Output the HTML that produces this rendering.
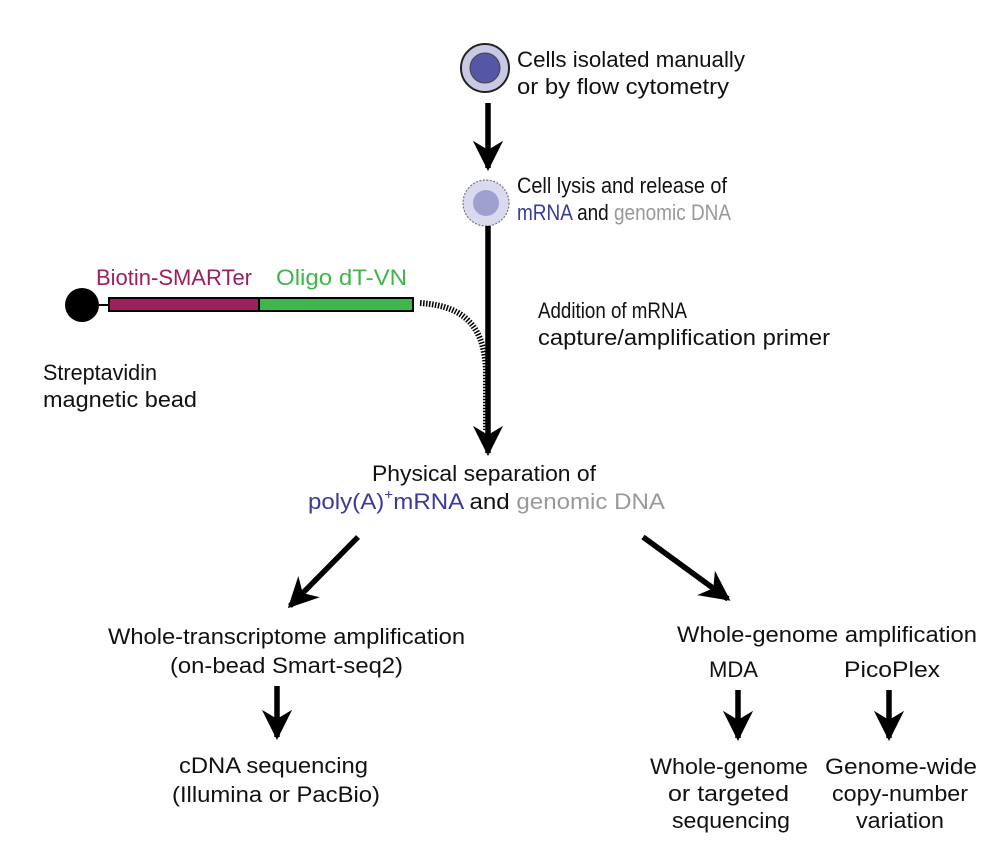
<!DOCTYPE html>
<html><head><meta charset="utf-8"><style>html,body{margin:0;padding:0;background:#fff}svg{display:block}</style></head>
<body>
<svg width="997" height="868" viewBox="0 0 997 868" xmlns="http://www.w3.org/2000/svg" font-family="Liberation Sans, Arial, sans-serif" font-size="22" fill="#111">
<defs>
<marker id="ah" viewBox="0 0 10 10" refX="9" refY="5" markerWidth="5.5" markerHeight="5.5" orient="auto" markerUnits="strokeWidth"><path d="M0,0 L10,5 L0,10 L3,5 z" fill="#000"/></marker>
</defs>
<!-- cell 1 -->
<circle cx="485" cy="68" r="24" fill="#c9c9e6" stroke="#222" stroke-width="2"/>
<circle cx="485" cy="68" r="15" fill="#5656a6" stroke="#444" stroke-width="1"/>
<!-- arrow 1 -->
<line x1="488" y1="103" x2="488" y2="168" stroke="#000" stroke-width="5.5" marker-end="url(#ah)"/>
<!-- cell 2 -->
<circle cx="486" cy="203" r="23" fill="#dadaef" stroke="#777" stroke-width="1.2" stroke-dasharray="2 1.5"/>
<circle cx="486" cy="203" r="13" fill="#a0a0d0"/>
<!-- long arrow -->
<line x1="488" y1="226" x2="488" y2="453" stroke="#000" stroke-width="5.5" marker-end="url(#ah)"/>
<!-- bead & primer -->
<circle cx="82" cy="305" r="17" fill="#000"/>
<line x1="96" y1="305" x2="110" y2="305" stroke="#000" stroke-width="2"/>
<rect x="109" y="298" width="150" height="13" fill="#9e1f5e" stroke="#000" stroke-width="2"/>
<rect x="259" y="298" width="154" height="13" fill="#3fb54a" stroke="#000" stroke-width="2"/>
<path d="M420,303 C468,306 484,330 486,370 L486,430" fill="none" stroke="#000" stroke-width="6" stroke-dasharray="1.5 1.5"/>
<!-- split arrows -->
<line x1="358" y1="537" x2="290" y2="606" stroke="#000" stroke-width="5.5" marker-end="url(#ah)"/>
<line x1="643" y1="537" x2="728" y2="599" stroke="#000" stroke-width="5.5" marker-end="url(#ah)"/>
<line x1="277" y1="686" x2="277" y2="737" stroke="#000" stroke-width="5.5" marker-end="url(#ah)"/>
<line x1="738" y1="690" x2="738" y2="738" stroke="#000" stroke-width="5.5" marker-end="url(#ah)"/>
<line x1="889" y1="690" x2="889" y2="738" stroke="#000" stroke-width="5.5" marker-end="url(#ah)"/>
<!-- text -->
<text x="517" y="67" textLength="228" lengthAdjust="spacingAndGlyphs">Cells isolated manually</text>
<text x="517" y="94" textLength="212" lengthAdjust="spacingAndGlyphs">or by flow cytometry</text>
<text x="517" y="193" textLength="210" lengthAdjust="spacingAndGlyphs">Cell lysis and release of</text>
<text x="517" y="220" textLength="214" lengthAdjust="spacingAndGlyphs"><tspan fill="#3a3a9a">mRNA</tspan> and <tspan fill="#999">genomic DNA</tspan></text>
<text x="96" y="285" textLength="156" lengthAdjust="spacingAndGlyphs" fill="#9e1f5e">Biotin-SMARTer</text>
<text x="276" y="285" textLength="131" lengthAdjust="spacingAndGlyphs" fill="#3fb54a">Oligo dT-VN</text>
<text x="538" y="318" textLength="149" lengthAdjust="spacingAndGlyphs">Addition of mRNA</text>
<text x="538" y="345" textLength="292" lengthAdjust="spacingAndGlyphs">capture/amplification primer</text>
<text x="43" y="380" textLength="114" lengthAdjust="spacingAndGlyphs">Streptavidin</text>
<text x="43" y="407" textLength="154" lengthAdjust="spacingAndGlyphs">magnetic bead</text>
<text x="372" y="481" textLength="224" lengthAdjust="spacingAndGlyphs">Physical separation of</text>
<text x="308" y="509" textLength="357" lengthAdjust="spacingAndGlyphs"><tspan fill="#3a3a9a">poly(A)</tspan><tspan fill="#3a3a9a" font-size="14" dy="-10">+</tspan><tspan fill="#3a3a9a" dy="10">mRNA</tspan> and <tspan fill="#999">genomic DNA</tspan></text>
<text x="108" y="644" textLength="357" lengthAdjust="spacingAndGlyphs">Whole-transcriptome amplification</text>
<text x="170" y="673" textLength="233" lengthAdjust="spacingAndGlyphs">(on-bead Smart-seq2)</text>
<text x="179" y="773" textLength="189" lengthAdjust="spacingAndGlyphs">cDNA sequencing</text>
<text x="172" y="802" textLength="208" lengthAdjust="spacingAndGlyphs">(Illumina or PacBio)</text>
<text x="677" y="642" textLength="300" lengthAdjust="spacingAndGlyphs">Whole-genome amplification</text>
<text x="709" y="677" textLength="49" lengthAdjust="spacingAndGlyphs">MDA</text>
<text x="844" y="677" textLength="96" lengthAdjust="spacingAndGlyphs">PicoPlex</text>
<text x="650" y="774" textLength="158" lengthAdjust="spacingAndGlyphs">Whole-genome</text>
<text x="668" y="801" textLength="121" lengthAdjust="spacingAndGlyphs">or targeted</text>
<text x="672" y="828" textLength="118" lengthAdjust="spacingAndGlyphs">sequencing</text>
<text x="825" y="774" textLength="152" lengthAdjust="spacingAndGlyphs">Genome-wide</text>
<text x="832" y="801" textLength="136" lengthAdjust="spacingAndGlyphs">copy-number</text>
<text x="856" y="828" textLength="88" lengthAdjust="spacingAndGlyphs">variation</text>
</svg>
</body></html>
